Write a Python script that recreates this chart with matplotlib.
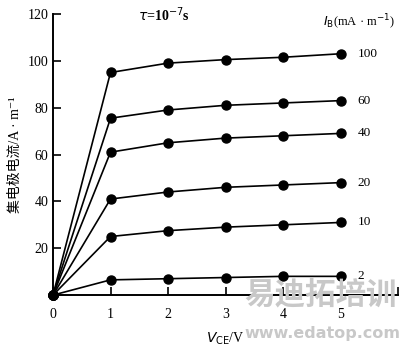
import numpy as np
import matplotlib.pyplot as plt

vce = [0, 1, 2, 3, 4, 5]
ib_labels = ["100", "60", "40", "20", "10", "2"]
ic_100 = [0, 95, 99, 100.5, 101.5, 103]
ic_60 = [0, 75.5, 79, 81, 82, 83]
ic_40 = [0, 61, 65, 67, 68, 69]
ic_20 = [0, 41, 44, 46, 47, 48]
ic_10 = [0, 25, 27.5, 29, 30, 31]
ic_2 = [0, 6.5, 7, 7.5, 8, 8]
curves = [ic_100, ic_60, ic_40, ic_20, ic_10, ic_2]

plt.rcParams['font.family'] = ['Liberation Serif', 'Noto Sans CJK SC', 'DejaVu Sans']

fig = plt.figure(figsize=(4.0, 3.48), dpi=100)
ax = fig.add_axes([0.1325, 0.152, 0.8625, 0.808])

for ic, lab in zip(curves, ib_labels):
    ax.plot(vce, ic, color="black", linewidth=1.2, marker="o", markersize=6.5,
            clip_on=False, zorder=3)
    ax.text(5.3, ic[-1], lab, fontsize=9.5, va="center", ha="left")

ax.set_xlim(0, 6)
ax.set_ylim(0, 120)
ax.set_xticks([0, 1, 2, 3, 4, 5, 6])
ax.set_xticklabels(["0", "1", "2", "3", "4", "5", ""])
ax.set_yticks([20, 40, 60, 80, 100, 120])
ax.tick_params(direction="in", length=6, width=1.2, labelsize=10)
ax.tick_params(axis="x", pad=9)
ax.spines["top"].set_visible(False)
ax.spines["right"].set_visible(False)
for s in ("left", "bottom"):
    ax.spines[s].set_linewidth(1.4)

ax.set_xlabel(r"$V_{\rm CE}$/V", fontsize=10, labelpad=7)
ax.set_ylabel("集电极电流/A · m⁻¹", fontsize=10, labelpad=4)
ax.text(1.93, 119.5, r"$\tau$=10$^{-7}$s", fontsize=10, fontweight="bold", ha="center", va="center")
ax.text(4.7, 116.5, r"$I_{\rm B}$(mA · m$^{-1}$)", fontsize=9, ha="left", va="center")

fig.text(0.612, 0.125, "易迪拓培训", fontsize=22, color="#c8c8c8", fontweight="bold",
         family=['Noto Sans CJK SC'], zorder=0)
fig.text(0.612, 0.028, "www.edatop.com", fontsize=11.5, color="#c8c8c8", fontweight="bold",
         family=['DejaVu Sans'], zorder=0)

fig.savefig("out.png", dpi=100)
